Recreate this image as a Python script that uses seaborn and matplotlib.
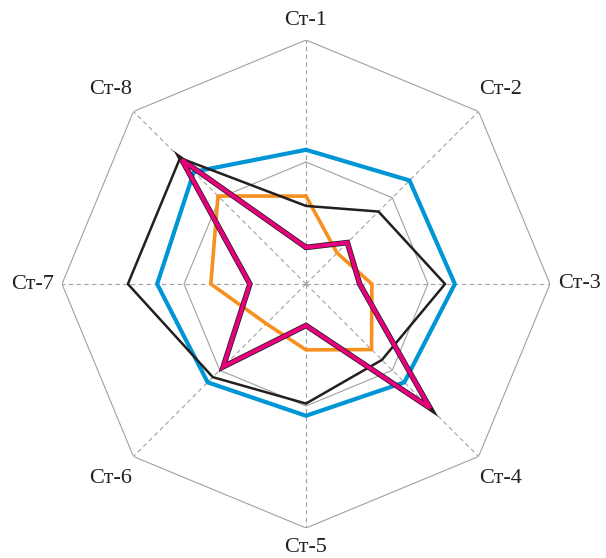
import numpy as np
import pandas as pd
import seaborn as sns
import matplotlib.pyplot as plt
import matplotlib.patheffects as pe

sns.set_style("white")
plt.rcParams['font.family'] = ['Liberation Serif', 'DejaVu Serif']

# Axis labels and values (fraction of outer ring)
labels = ["Ст-1", "Ст-2", "Ст-3", "Ст-4", "Ст-5", "Ст-6", "Ст-7", "Ст-8"]
blue = [0.55, 0.60, 0.61, 0.57, 0.54, 0.57, 0.61, 0.65]
orange = [0.36, 0.18, 0.27, 0.38, 0.27, 0.23, 0.39, 0.51]
black = [0.32, 0.42, 0.57, 0.44, 0.49, 0.54, 0.73, 0.73]
pink = [0.15, 0.24, 0.22, 0.72, 0.17, 0.48, 0.23, 0.72]
rings = [0.5, 1.0]

n = len(labels)
angles = np.linspace(0, 2 * np.pi, n, endpoint=False)
theta = np.append(angles, 2 * np.pi)

fig = plt.figure(figsize=(6.06, 5.58), dpi=100)
ax = fig.add_axes([62 / 606, 30 / 558, 488 / 606, 488 / 558], projection="polar")
ax.set_theta_zero_location("N")
ax.set_theta_direction(-1)
ax.set_ylim(0, 1)
ax.grid(False)
ax.spines["polar"].set_visible(False)
ax.set_xticks([])
ax.set_yticks([])

# octagon grid
for r in rings:
    ax.plot(theta, [r] * (n + 1), color="#a0a0a0", lw=0.8, zorder=1)
for a in angles:
    ax.plot([a, a], [0, 1], color="#a0a0a0", lw=0.8, ls=(0, (4, 3)), zorder=1)

series = [
    ("blue", blue, "#0096D6", 3.0),
    ("orange", orange, "#F7901E", 2.6),
    ("black", black, "#231F20", 1.8),
    ("pink", pink, "#E6007E", 2.9),
]

for name, vals, color, lw in series:
    df = pd.DataFrame({"theta": theta, "value": vals + vals[:1]})
    sns.lineplot(data=df, x="theta", y="value", sort=False, estimator=None,
                 color=color, lw=lw, ax=ax, zorder=3)
    line = ax.lines[-1]
    if name == "pink":
        line.set_path_effects([pe.Stroke(linewidth=4.0, foreground="#231F20"), pe.Normal()])
        line.set_solid_joinstyle("miter")
    elif name == "blue":
        line.set_solid_joinstyle("round")

ax.set_xlabel("")
ax.set_ylabel("")

# axis labels
label_r = [1.08, 1.13, 1.12, 1.13, 1.08, 1.13, 1.12, 1.13]
for a, lab, r in zip(angles, labels, label_r):
    ax.text(a, r, lab, ha="center", va="center", fontsize=16, color="#231F20")

fig.savefig("out.png", dpi=100)
